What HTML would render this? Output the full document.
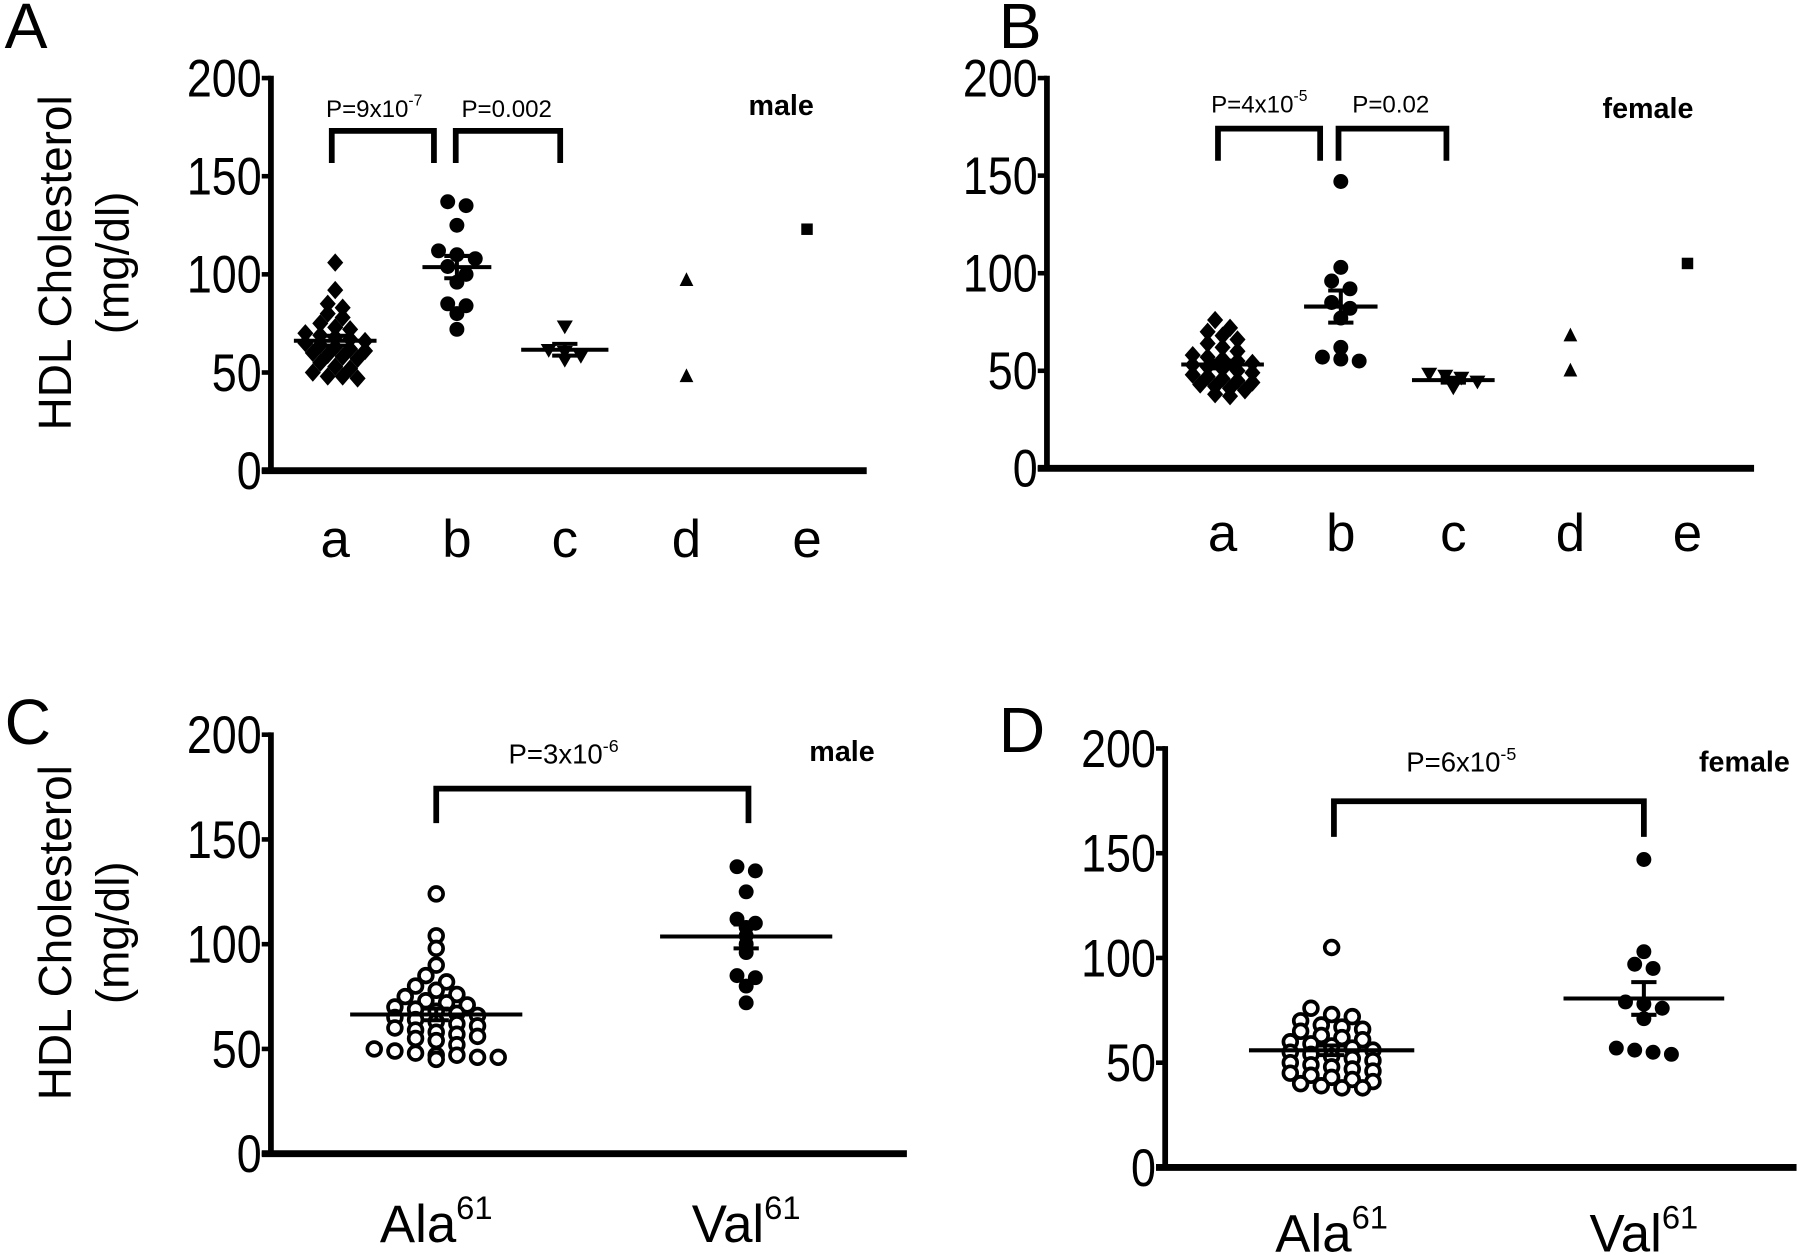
<!DOCTYPE html>
<html><head><meta charset="utf-8"><style>
html,body{margin:0;padding:0;background:#fff}
svg{display:block}
text{font-family:"Liberation Sans",Arial,sans-serif;fill:#000}
</style></head><body>
<svg id="fig" width="1800" height="1257" viewBox="0 0 1568 1095" xmlns="http://www.w3.org/2000/svg"></svg>
<script>
const yTicks = [0, 50, 100, 150, 200];
const catsAB = ["a", "b", "c", "d", "e"];
const A_a = [106,92,85,83,80,78,75,73,72,70,69,68,67,66,65,64,63,62,61,60,59,58,57,55,53,52,50,48,48,47];
const A_b = [137,135,125,112,110,108,104,100,96,85,84,80,72];
const A_c = [73,61,60,58,56];
const A_d = [97,48];
const A_e = [123];
const B_a = [76,72,70,68,66,64,62,60,58,57,56,55,54,53,52,51,50,49,48,47,46,45,44,43,42,41,40,38,37];
const B_b = [147,103,96,92,85,82,77,62,57,56,55];
const B_c = [48,47,46,44,41];
const B_d = [68,50];
const B_e = [105];
const C_ala = [124,104,98,90,85,82,80,78,76,75,73,72,71,70,69,68,67,66,65,64,63,62,61,60,59,58,57,56,55,54,52,50,49,48,47,47,46,46,45];
const C_val = [137,135,125,112,110,108,104,100,96,85,84,80,72];
const D_ala = [105,76,73,72,70,68,67,66,65,63,62,61,60,59,58,57,56,55,54,53,52,51,50,49,48,47,46,45,44,43,42,41,40,39,38,38];
const D_val = [147,103,97,95,79,78,76,71,57,56,55,54];

const NS = "http://www.w3.org/2000/svg";
const svg = document.getElementById('fig');
function mk(tag, attrs, parent){const e=document.createElementNS(NS,tag);for(const k in attrs)e.setAttribute(k,attrs[k]);(parent||svg).appendChild(e);return e;}

function panel(cfg){
  const g = mk('g',{});
  
  
  const y = v => cfg.y0 - (v/200)*(cfg.y0-cfg.y200);
  const ya = mk('line',{x1:cfg.ax,y1:cfg.y200-2,x2:cfg.ax,y2:cfg.y0,stroke:'#000','stroke-width':5},g);
  
  
  const xa = mk('line',{x1:cfg.ax-8,y1:cfg.y0,x2:cfg.xend,y2:cfg.y0,stroke:'#000','stroke-width':6},g);
  
  
  yTicks.forEach(t=>{
    mk('line',{x1:cfg.ax-8,y1:y(t),x2:cfg.ax,y2:y(t),stroke:'#000','stroke-width':4},g);
    const tx = mk('text',{x:cfg.ax-8,y:y(t)+16,'font-size':46,'text-anchor':'end',transform:`translate(${cfg.ax-8} 0) scale(0.85 1) translate(${-(cfg.ax-8)} 0)`},g);
    tx.textContent = t;
    
    
  });
  const L = mk('text',{x:cfg.lx,y:cfg.ly,'font-size':56},g); L.textContent = cfg.letter;
  
  
  const sx = mk('text',{x:cfg.sexX,y:cfg.sexY,'font-size':25,'font-weight':'bold'},g); sx.textContent = cfg.sex;
  
  
  if(cfg.ytitle){
    const t1 = mk('text',{x:0,y:0,'font-size':40,'text-anchor':'middle',transform:`translate(${cfg.ax-174} ${(cfg.y0+cfg.y200)/2-10}) rotate(-90)`},g);
    t1.textContent='HDL Cholesterol';
    
    
    const t2 = mk('text',{x:0,y:0,'font-size':40,'text-anchor':'middle',transform:`translate(${cfg.ax-124} ${(cfg.y0+cfg.y200)/2-10}) rotate(-90)`},g);
    t2.textContent='(mg/dl)';
    
    
  }
  cfg.groups.forEach(gr=>{
    const cl = mk('text',{x:gr.x,y:cfg.labY,'font-size':cfg.labSize,'text-anchor':'middle'},g);
    if(gr.sup){ cl.textContent = gr.label; const ts=mk('tspan',{dy:-20,'font-size':cfg.labSize*0.62},cl); ts.textContent=gr.sup; }
    else cl.textContent = gr.label;
    
    
    const vals = gr.data.slice().sort((a,b)=>b-a);
    const rows=[]; const step=gr.rowPx||12;
    vals.forEach(v=>{const py=y(v);let r=rows.find(r=>Math.abs(r.py-py)<step*0.6);if(!r){r={py,vs:[]};rows.push(r);}r.vs.push(v);});
    rows.forEach(r=>{
      const n=r.vs.length, sp=gr.spread||14;
      r.vs.forEach((v,i)=>{
        const off=(i-(n-1)/2)*sp;
        const px=gr.x+off, py=y(v);
        let m;
        if(gr.shape==='diamond') m=mk('polygon',{points:`${px},${py-8} ${px+7},${py} ${px},${py+8} ${px-7},${py}`,fill:'#000'},g);
        else if(gr.shape==='circle') m=mk('circle',{cx:px,cy:py,r:6.5,fill:'#000'},g);
        else if(gr.shape==='open') m=mk('circle',{cx:px,cy:py,r:6,fill:'#fff',stroke:'#000','stroke-width':3.2},g);
        else if(gr.shape==='tri') m=mk('polygon',{points:`${px},${py-7} ${px+6},${py+5} ${px-6},${py+5}`,fill:'#000'},g);
        else if(gr.shape==='itri') m=mk('polygon',{points:`${px-7},${py-6} ${px+7},${py-6} ${px},${py+6}`,fill:'#000'},g);
        else m=mk('rect',{x:px-5,y:py-5,width:10,height:10,fill:'#000'},g);
        
        
      });
    });
    if(gr.mean){
      const n=gr.data.length, mean=gr.data.reduce((a,b)=>a+b,0)/n;
      const sd=Math.sqrt(gr.data.reduce((a,b)=>a+(b-mean)**2,0)/(n-1)), se=sd/Math.sqrt(n);
      const ml=mk('line',{x1:gr.x-gr.mw,y1:y(mean),x2:gr.x+gr.mw,y2:y(mean),stroke:'#000','stroke-width':3.5},g);
      
      
      const eb=mk('path',{d:`M${gr.x},${y(mean+se)}V${y(mean-se)}M${gr.x-11},${y(mean+se)}H${gr.x+11}M${gr.x-11},${y(mean-se)}H${gr.x+11}`,stroke:'#000','stroke-width':3.5,fill:'none'},g);
      
      
    }
  });
  cfg.brackets.forEach(b=>{
    const p=mk('path',{d:`M${b.x1},${b.bot}V${b.top}H${b.x2}V${b.bot}`,stroke:'#000','stroke-width':5,fill:'none'},g);
    
    
    const t=mk('text',{x:b.tx,y:b.ty,'font-size':b.fs},g);
    t.textContent=b.t1;
    if(b.sup){const s=mk('tspan',{dy:-10,'font-size':b.fs*0.65},t);s.textContent=b.sup;}
    
    
  });
}

panel({name:'panel-a',letter:'A',lx:4,ly:42,ax:236,y0:410,y200:68,xend:755,sex:'male',sexX:652,sexY:100,ytitle:true,labY:485,labSize:46,
 groups:[
  {label:'a',x:292,data:A_a,shape:'diamond',mean:true,mw:36,spread:13},
  {label:'b',x:398,data:A_b,shape:'circle',mean:true,mw:30,spread:16},
  {label:'c',x:492,data:A_c,shape:'itri',mean:true,mw:38,spread:14},
  {label:'d',x:598,data:A_d,shape:'tri'},
  {label:'e',x:703,data:A_e,shape:'square'}],
 brackets:[{x1:289,x2:378,top:114,bot:142,tx:284,ty:102,fs:21,t1:'P=9x10',sup:'-7'},
           {x1:397,x2:488,top:114,bot:142,tx:402,ty:102,fs:21,t1:'P=0.002'}]});
panel({name:'panel-b',letter:'B',lx:870,ly:42,ax:912,y0:408,y200:68,xend:1528,sex:'female',sexX:1396,sexY:103,ytitle:false,labY:480,labSize:46,
 groups:[
  {label:'a',x:1065,data:B_a,shape:'diamond',mean:true,mw:36,spread:13},
  {label:'b',x:1168,data:B_b,shape:'circle',mean:true,mw:32,spread:16},
  {label:'c',x:1266,data:B_c,shape:'itri',mean:true,mw:36,spread:14},
  {label:'d',x:1368,data:B_d,shape:'tri'},
  {label:'e',x:1470,data:B_e,shape:'square'}],
 brackets:[{x1:1061,x2:1150,top:112,bot:140,tx:1055,ty:98,fs:21,t1:'P=4x10',sup:'-5'},
           {x1:1166,x2:1260,top:112,bot:140,tx:1178,ty:98,fs:21,t1:'P=0.02'}]});
panel({name:'panel-c',letter:'C',lx:4,ly:648,ax:236,y0:1005,y200:640,xend:790,sex:'male',sexX:705,sexY:663,ytitle:true,labY:1082,labSize:46,
 groups:[
  {label:'Ala',sup:'61',x:380,data:C_ala,shape:'open',mean:true,mw:75,spread:18,rowPx:14},
  {label:'Val',sup:'61',x:650,data:C_val,shape:'circle',mean:true,mw:75,spread:16}],
 brackets:[{x1:380,x2:652,top:687,bot:717,tx:443,ty:665,fs:24,t1:'P=3x10',sup:'-6'}]});
panel({name:'panel-d',letter:'D',lx:870,ly:655,ax:1015,y0:1017,y200:652,xend:1565,sex:'female',sexX:1480,sexY:672,ytitle:false,labY:1090,labSize:46,
 groups:[
  {label:'Ala',sup:'61',x:1160,data:D_ala,shape:'open',mean:true,mw:72,spread:18,rowPx:14},
  {label:'Val',sup:'61',x:1432,data:D_val,shape:'circle',mean:true,mw:70,spread:16}],
 brackets:[{x1:1162,x2:1432,top:698,bot:729,tx:1225,ty:672,fs:24,t1:'P=6x10',sup:'-5'}]});
</script>
</body></html>
